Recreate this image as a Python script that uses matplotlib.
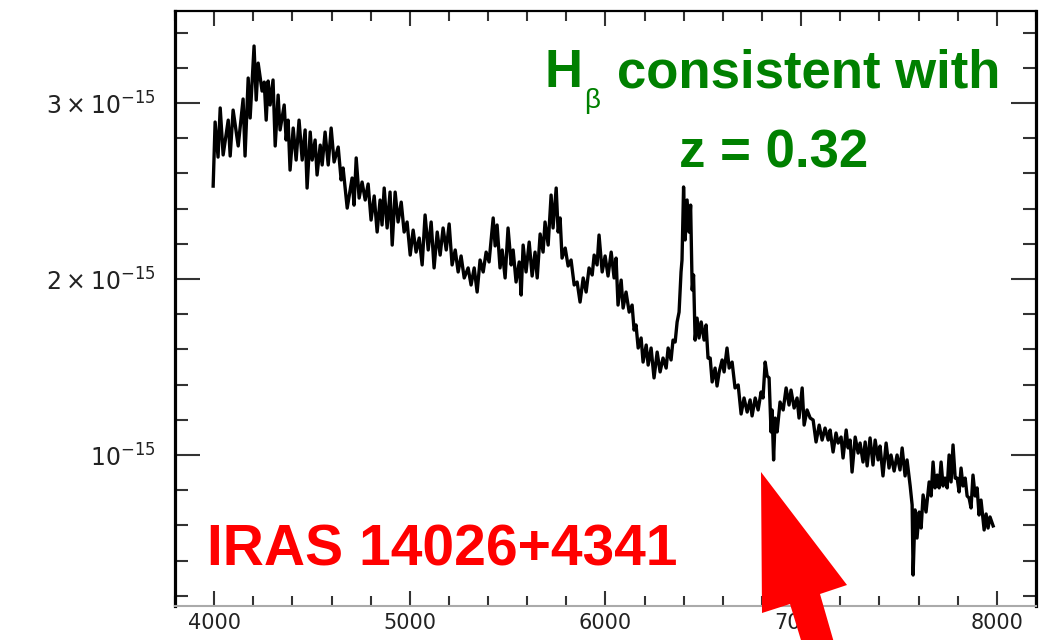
import numpy as np
import matplotlib.pyplot as plt
from matplotlib.patches import Polygon
from matplotlib.ticker import MultipleLocator

# optical spectrum of IRAS 14026+4341: wavelength (Angstrom), flux (1e-15 units)
wave = [3995, 4005, 4020, 4031, 4046, 4072, 4082, 4097, 4123, 4148, 4158, 4174, 4184, 4204, 4215,
        4225, 4245, 4256, 4266, 4276, 4286, 4301, 4312, 4327, 4337, 4358, 4368, 4378, 4388, 4404,
        4419, 4434, 4450, 4465, 4475, 4491, 4501, 4516, 4526, 4542, 4552, 4567, 4583, 4598, 4613,
        4634, 4649, 4659, 4680, 4705, 4715, 4726, 4741, 4756, 4772, 4787, 4802, 4818, 4833, 4848,
        4858, 4869, 4884, 4899, 4910, 4925, 4940, 4956, 4971, 4986, 5002, 5017, 5032, 5048, 5063,
        5078, 5094, 5109, 5124, 5140, 5155, 5170, 5186, 5201, 5216, 5232, 5247, 5262, 5278, 5298,
        5313, 5329, 5344, 5359, 5375, 5390, 5405, 5426, 5436, 5446, 5461, 5472, 5487, 5502, 5518,
        5528, 5543, 5559, 5569, 5579, 5594, 5610, 5625, 5640, 5651, 5666, 5681, 5691, 5707, 5722,
        5732, 5748, 5758, 5768, 5778, 5794, 5809, 5824, 5840, 5855, 5870, 5886, 5901, 5916, 5932,
        5942, 5957, 5967, 5983, 5998, 6013, 6029, 6044, 6054, 6064, 6080, 6090, 6105, 6121, 6136,
        6146, 6156, 6167, 6182, 6192, 6208, 6218, 6233, 6248, 6264, 6279, 6294, 6310, 6320, 6335,
        6345, 6356, 6366, 6376, 6386, 6391, 6399, 6407, 6417, 6427, 6435, 6443, 6450, 6458, 6468,
        6478, 6489, 6504, 6514, 6524, 6535, 6545, 6560, 6570, 6581, 6596, 6606, 6621, 6632, 6647,
        6662, 6678, 6693, 6708, 6724, 6739, 6749, 6765, 6780, 6795, 6805, 6816, 6826, 6836, 6846,
        6851, 6859, 6867, 6877, 6892, 6908, 6923, 6938, 6948, 6964, 6979, 6989, 7005, 7015, 7030,
        7046, 7061, 7076, 7092, 7107, 7122, 7138, 7148, 7163, 7178, 7189, 7204, 7214, 7230, 7240,
        7250, 7260, 7276, 7291, 7301, 7316, 7327, 7337, 7352, 7367, 7378, 7393, 7403, 7418, 7434,
        7449, 7459, 7475, 7490, 7505, 7516, 7531, 7541, 7557, 7567, 7572, 7582, 7592, 7603, 7613,
        7623, 7638, 7654, 7664, 7674, 7684, 7695, 7705, 7715, 7725, 7735, 7746, 7756, 7766, 7776,
        7787, 7797, 7807, 7817, 7827, 7838, 7848, 7858, 7868, 7878, 7889, 7899, 7909, 7919, 7935,
        7945, 7955, 7965, 7981]
flux = [2.528, 2.892, 2.693, 2.972, 2.705, 2.903, 2.699, 2.960, 2.756, 3.023, 2.699, 3.142, 2.915, 3.324, 3.017,
        3.227, 3.068, 3.119, 2.903, 3.125, 2.989, 3.131, 2.756, 3.045, 2.847, 2.989, 2.790, 2.903, 2.619, 2.858,
        2.676, 2.903, 2.676, 2.847, 2.517, 2.835, 2.676, 2.790, 2.591, 2.761, 2.648, 2.835, 2.648, 2.858, 2.665,
        2.750, 2.563, 2.631, 2.403, 2.574, 2.420, 2.688, 2.460, 2.551, 2.449, 2.540, 2.335, 2.472, 2.267, 2.449,
        2.307, 2.517, 2.290, 2.494, 2.193, 2.494, 2.324, 2.437, 2.267, 2.324, 2.136, 2.278, 2.153, 2.233, 2.080,
        2.364, 2.165, 2.324, 2.063, 2.267, 2.136, 2.290, 2.165, 2.313, 2.080, 2.165, 2.040, 2.131, 2.006, 2.063,
        1.966, 2.063, 1.926, 2.108, 2.040, 2.153, 2.097, 2.347, 2.188, 2.307, 2.063, 2.165, 2.006, 2.290, 2.080,
        2.165, 1.983, 2.097, 1.909, 2.193, 2.040, 2.210, 2.017, 2.153, 2.006, 2.256, 2.153, 2.324, 2.193, 2.477,
        2.290, 2.517, 2.267, 2.347, 2.119, 2.176, 2.074, 2.108, 1.966, 1.983, 1.869, 2.006, 1.926, 2.063, 2.023,
        2.136, 2.080, 2.250, 2.040, 2.131, 2.017, 2.153, 2.006, 2.119, 1.852, 1.994, 1.835, 1.926, 1.812, 1.852,
        1.710, 1.739, 1.608, 1.665, 1.528, 1.625, 1.511, 1.608, 1.438, 1.585, 1.472, 1.551, 1.494, 1.608, 1.540,
        1.653, 1.642, 1.756, 1.812, 2.040, 2.108, 2.523, 2.222, 2.449, 2.267, 2.420, 1.938, 2.023, 1.653, 1.778,
        1.665, 1.756, 1.653, 1.739, 1.551, 1.551, 1.415, 1.494, 1.392, 1.472, 1.540, 1.472, 1.608, 1.494, 1.528,
        1.381, 1.398, 1.233, 1.324, 1.244, 1.313, 1.222, 1.324, 1.256, 1.358, 1.324, 1.528, 1.449, 1.438, 1.131,
        1.256, 0.972, 1.210, 1.131, 1.301, 1.256, 1.381, 1.284, 1.369, 1.267, 1.324, 1.210, 1.381, 1.170, 1.256,
        1.210, 1.199, 1.074, 1.170, 1.085, 1.153, 1.085, 1.142, 1.017, 1.125, 1.068, 1.102, 0.983, 1.142, 1.040,
        1.085, 0.903, 1.102, 1.011, 1.068, 0.960, 1.074, 0.938, 1.097, 0.943, 1.085, 0.972, 1.051, 0.881, 1.068,
        0.926, 1.000, 0.909, 1.000, 0.915, 1.040, 0.881, 0.972, 0.824, 0.716, 0.318, 0.688, 0.528, 0.676, 0.585,
        0.773, 0.676, 0.847, 0.767, 0.960, 0.813, 0.886, 0.813, 0.960, 0.824, 0.869, 0.813, 1.000, 0.847, 1.057,
        0.869, 0.869, 0.790, 0.926, 0.824, 0.869, 0.767, 0.756, 0.699, 0.886, 0.767, 0.813, 0.659, 0.744, 0.574,
        0.665, 0.585, 0.648, 0.597]

x_ticks = [4000, 5000, 6000, 7000, 8000]
x_labels = ['4000', '5000', '6000', '7000', '8000']
y_ticks = [1e-15, 2e-15, 3e-15]
y_labels = [r'$10^{-15}$', r'$2\times10^{-15}$', r'$3\times10^{-15}$']

W, H = 1041, 640
fig = plt.figure(figsize=(W / 100, H / 100), dpi=100)


def fig_xy(px, py):
    # pixel position (from top-left) -> figure fraction
    return px / W, 1 - py / H


ax = fig.add_axes([175 / W, 1 - 606 / H, (1036 - 175) / W, (606 - 11) / H])
ax.plot(wave, np.array(flux) * 1e-15, color='black', lw=2.4, solid_joinstyle='round')

ax.set_xlim(3800, 8200)
ax.set_ylim(0.142e-15, 3.523e-15)

ax.set_xticks(x_ticks)
ax.set_xticklabels(x_labels)
ax.xaxis.set_minor_locator(MultipleLocator(200))
ax.set_yticks(y_ticks)
ax.set_yticklabels(y_labels)
ax.yaxis.set_minor_locator(MultipleLocator(0.2e-15))

ax.tick_params(which='both', direction='in', top=True, right=True, color='#333333', width=1.5,
               labelcolor='#222222')
ax.tick_params(axis='x', which='major', length=11, labelsize=15, pad=5)
ax.tick_params(axis='x', which='minor', length=7)
ax.tick_params(axis='y', which='major', length=18, labelsize=17, pad=14)
ax.tick_params(axis='y', which='minor', length=9.5)

ax.spines['left'].set_linewidth(2.3)
ax.spines['right'].set_linewidth(2.3)
ax.spines['top'].set_linewidth(1.6)
ax.spines['bottom'].set_linewidth(1.5)
ax.spines['bottom'].set_color('#aaaaaa')

bold = dict(family=['Liberation Sans', 'DejaVu Sans'], weight='bold')
green = '#008000'

fig.text(*fig_xy(545, 87), 'H', color=green, fontsize=38, va='baseline', **bold)
fig.text(*fig_xy(584, 108), 'β', color=green, fontsize=20, va='baseline',
         family=['Liberation Sans', 'DejaVu Sans'])
fig.text(*fig_xy(617, 87), 'consistent with', color=green, fontsize=38, va='baseline', **bold)
fig.text(*fig_xy(679, 167), 'z = 0.32', color=green, fontsize=38, va='baseline', **bold)

fig.text(*fig_xy(207, 565), 'IRAS 14026+4341', color='red', fontsize=41, va='baseline', **bold)

# big red arrow pointing up-left at the dip
arrow_px = [(761, 472), (847, 585), (820, 594), (839, 660), (807, 660), (790, 604), (762, 613)]
arrow = Polygon([fig_xy(*p) for p in arrow_px], closed=True, transform=fig.transFigure,
                facecolor='red', edgecolor='none')
fig.add_artist(arrow)

fig.savefig('out.png', dpi=100)
